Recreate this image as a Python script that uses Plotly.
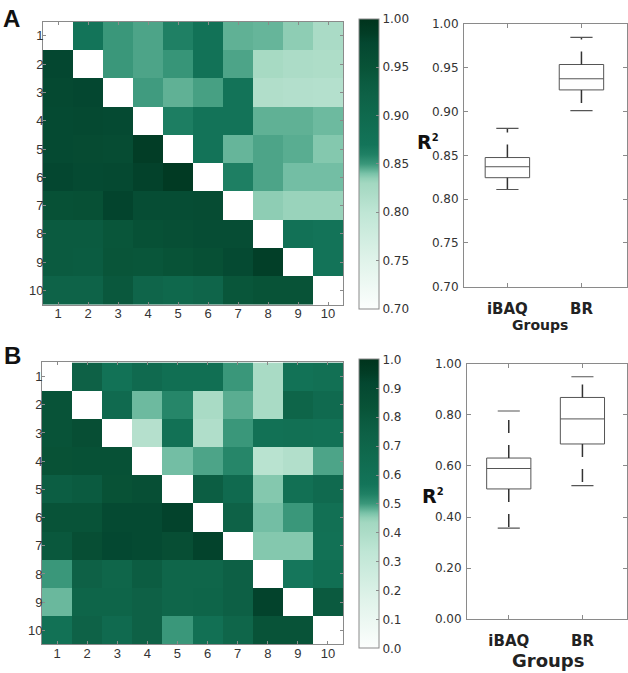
import plotly.graph_objects as go

# ---------------- data ----------------
labels = [1, 2, 3, 4, 5, 6, 7, 8, 9, 10]
groups = ["iBAQ", "BR"]

# Panel A: pairwise R^2 (upper triangle iBAQ, lower triangle BR)
corr_A = [
    [None, .870, .850, .847, .860, .875, .844, .843, .836, .822],
    [.975, None, .850, .847, .851, .875, .847, .826, .820, .818],
    [.972, .975, None, .849, .844, .848, .873, .815, .813, .812],
    [.970, .972, .968, None, .862, .874, .874, .844, .844, .842],
    [.970, .967, .965, .985, None, .873, .843, .847, .845, .838],
    [.975, .969, .971, .980, .990, None, .861, .847, .841, .841],
    [.955, .957, .978, .962, .962, .965, None, .836, .833, .833],
    [.935, .935, .945, .955, .958, .963, .963, None, .878, .872],
    [.935, .933, .947, .945, .950, .957, .968, .983, None, .872],
    [.918, .918, .940, .912, .905, .912, .945, .950, .950, None],
]

# Panel B: pairwise R^2 (upper triangle iBAQ, lower triangle BR)
corr_B = [
    [None, .74, .59, .66, .62, .62, .50, .41, .59, .61],
    [.83, None, .66, .473, .525, .41, .483, .41, .71, .66],
    [.83, .87, None, .37, .60, .385, .50, .60, .61, .60],
    [.84, .85, .85, None, .47, .49, .525, .355, .38, .49],
    [.76, .78, .84, .86, None, .76, .66, .46, .61, .66],
    [.83, .83, .90, .90, .93, None, .73, .47, .50, .61],
    [.80, .87, .91, .90, .87, .93, None, .46, .46, .60],
    [.50, .74, .70, .77, .70, .70, .75, None, .56, .62],
    [.475, .71, .71, .74, .70, .71, .75, .93, None, .79],
    [.60, .73, .66, .74, .50, .61, .70, .83, .83, None],
]

# Box-plot statistics (iBAQ, BR)
A_low = [0.811, 0.901]
A_q1 = [0.8245, 0.9247]
A_med = [0.837, 0.9374]
A_q3 = [0.8475, 0.9537]
A_high = [0.8807, 0.9847]

B_low = [0.357, 0.523]
B_q1 = [0.510, 0.686]
B_med = [0.590, 0.784]
B_q3 = [0.631, 0.868]
B_high = [0.815, 0.949]

A_ticks = [0.70, 0.75, 0.80, 0.85, 0.90, 0.95, 1.00]
B_ticks = [0.0, 0.2, 0.4, 0.6, 0.8, 1.0]

# ---------------- styles ----------------
colorscale = [
    [0.0, '#fcfefd'], [0.167, '#e0f3ea'], [0.333, '#bfe6d5'], [0.4, '#acdcc7'],
    [0.433, '#a3d8c1'], [0.45, '#93d0b7'], [0.467, '#79c2a8'], [0.483, '#5aad91'],
    [0.5, '#3a977a'], [0.533, '#1f8064'], [0.567, '#137459'], [0.683, '#0f684c'],
    [0.733, '#0e6247'], [0.783, '#0b5b40'], [0.833, '#085337'], [0.883, '#064c33'],
    [0.917, '#044730'], [0.95, '#023d26'], [1.0, '#00331c'],
]

W, H = 628, 673
def px_x(p):
    return p / W
def px_y(p):
    return 1 - p / H

AX = '#8a8a8a'
TXT = '#333333'
BOXC = '#555555'
WHC = '#333333'
cb_font = dict(family='DejaVu Sans', size=12, color=TXT)
hm_font = dict(family='Arial, Liberation Sans', size=13, color=TXT)

fig = go.Figure()

def add_heatmap(z, zmin, zmax, xa, ya, cb_top, cb_bot, fmt, dtick):
    fig.add_trace(go.Heatmap(
        z=z, x=labels, y=labels, zmin=zmin, zmax=zmax, colorscale=colorscale,
        xaxis=xa, yaxis=ya, hoverongaps=False,
        colorbar=dict(
            x=px_x(359), xanchor='left', xpad=0, ypad=0,
            y=px_y((cb_top + cb_bot) / 2), yanchor='middle',
            len=cb_bot - cb_top, lenmode='pixels',
            thickness=20, thicknessmode='pixels',
            outlinewidth=1, outlinecolor=AX,
            tickformat=fmt, dtick=dtick, tick0=zmin,
            ticks='inside', ticklen=3, tickcolor=AX,
            tickfont=cb_font,
        ),
    ))

add_heatmap(corr_A, 0.70, 1.00, 'x', 'y', 15.5, 305, '.2f', 0.05)
add_heatmap(corr_B, 0.0, 1.0, 'x3', 'y3', 363, 652, '.1f', 0.1)

def add_box(xa, ya, low, q1, med, q3, high):
    xs = [1, 2]
    fig.add_trace(go.Box(
        x=xs, q1=q1, median=med, q3=q3, lowerfence=q1, upperfence=q3,
        width=0.6, whiskerwidth=0, fillcolor='white',
        line=dict(color=BOXC, width=1), boxpoints=False,
        xaxis=xa, yaxis=ya, showlegend=False,
    ))
    for i, c in enumerate(xs):
        # dashed whiskers
        fig.add_trace(go.Scatter(
            x=[c, c], y=[q3[i], high[i]], mode='lines',
            line=dict(color=WHC, width=1.5, dash='13px,12px'),
            xaxis=xa, yaxis=ya, showlegend=False, hoverinfo='skip'))
        fig.add_trace(go.Scatter(
            x=[c, c], y=[q1[i], low[i]], mode='lines',
            line=dict(color=WHC, width=1.5, dash='13px,12px'),
            xaxis=xa, yaxis=ya, showlegend=False, hoverinfo='skip'))
        # caps
        fig.add_trace(go.Scatter(
            x=[c - 0.15, c + 0.15, None, c - 0.15, c + 0.15],
            y=[high[i], high[i], None, low[i], low[i]], mode='lines',
            line=dict(color='#555555', width=1.2),
            xaxis=xa, yaxis=ya, showlegend=False, hoverinfo='skip'))

add_box('x2', 'y2', A_low, A_q1, A_med, A_q3, A_high)
add_box('x4', 'y4', B_low, B_q1, B_med, B_q3, B_high)

hm_axis = dict(showline=True, linecolor=AX, mirror='ticks', ticks='inside', ticklen=3,
               tickcolor=AX, tickfont=hm_font, showgrid=False, zeroline=False,
               tickvals=labels, ticktext=[str(v) for v in labels])
bx_x = dict(showline=True, linecolor=AX, mirror='ticks', ticks='inside', ticklen=4,
            tickcolor=AX, showgrid=False, zeroline=False, tickvals=[1, 2], ticktext=groups,
            tickfont=dict(family='DejaVu Sans', size=15, weight='bold', color='#222222'))
bx_y = dict(showline=True, linecolor=AX, mirror='ticks', ticks='inside', ticklen=4,
            tickcolor=AX, showgrid=False, zeroline=False, tickformat='.2f', tickfont=cb_font,
            ticklabelstandoff=2)

fig.update_layout(
    width=W, height=H, autosize=False,
    margin=dict(l=0, r=0, t=0, b=0),
    paper_bgcolor='white', plot_bgcolor='white',
    showlegend=False,
    xaxis=dict(hm_axis, domain=[px_x(43), px_x(343)], anchor='y', range=[0.5, 10.5],
               ticklabelstandoff=-3),
    yaxis=dict(hm_axis, domain=[px_y(304), px_y(15)], anchor='x', range=[10.5, 0.5],
               ticklabelstandoff=-4),
    xaxis3=dict(hm_axis, domain=[px_x(42), px_x(343)], anchor='y3', range=[0.5, 10.5],
                ticklabelstandoff=-3),
    yaxis3=dict(hm_axis, domain=[px_y(651), px_y(363)], anchor='x3', range=[10.5, 0.5],
                ticklabelstandoff=-4),
    xaxis2=dict(bx_x, domain=[px_x(464), px_x(627)], anchor='y2', range=[0.414, 2.615],
                ticklabelstandoff=8),
    yaxis2=dict(bx_y, domain=[px_y(285.7), px_y(17.3)], anchor='x2', range=[0.70, 1.00],
                tickvals=A_ticks),
    xaxis4=dict(bx_x, domain=[px_x(467), px_x(627)], anchor='y4', range=[0.433, 2.605],
                ticklabelstandoff=8),
    yaxis4=dict(bx_y, domain=[px_y(625.3), px_y(364.3)], anchor='x4', range=[0.0, 1.0],
                tickvals=B_ticks),
)

ann_font = dict(family='Arial, Liberation Sans', size=24, color='#111111')
r2 = "<b>R</b><sup><span style='font-size:10px'><b>2</b></span></sup>"
def ann(text, x, y, font):
    fig.add_annotation(text=text, x=px_x(x), y=px_y(y), xref='paper', yref='paper',
                       xanchor='center', yanchor='middle', showarrow=False, font=font)

ann('<b>A</b>', 11, 12, ann_font)
ann('<b>B</b>', 12, 356, ann_font)
ann(r2, 428, 138, dict(family='DejaVu Sans', size=19, color='#111111'))
ann(r2, 433, 499, dict(family='DejaVu Sans', size=19, color='#111111'))
ann('<b>Groups</b>', 540, 325, dict(family='DejaVu Sans', size=14, color='#222222'))
ann('<b>Groups</b>', 548, 667, dict(family='DejaVu Sans', size=18, color='#222222'))

fig.write_html("out.html", config={'displayModeBar': False},
               post_script="document.body.style.margin='0px';document.body.style.padding='0px';")
